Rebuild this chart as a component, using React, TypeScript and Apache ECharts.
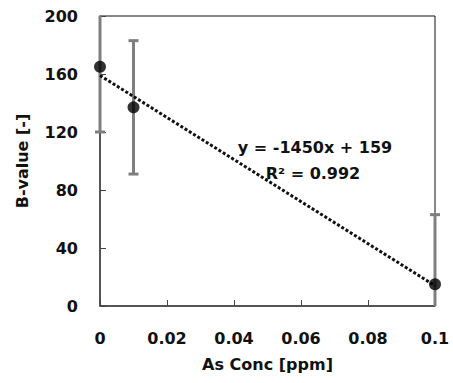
import React, { useEffect, useRef } from "react";
import * as echarts from "echarts";

const concentrations = [0, 0.01, 0.1];
const bValues = [165, 137, 15];
const errors = [45, 46, 48];
const trendX = [0, 0.1];
const trendY = [159, 14];
const yTicks = [0, 40, 80, 120, 160, 200];
const xTicks = [0, 0.02, 0.04, 0.06, 0.08, 0.1];
const equationText = "y = -1450x + 159";
const r2Text = "R\u00b2 = 0.992";

const FONT = "'DejaVu Sans', 'Open Sans', sans-serif";
const W = "bold";
const FS = 16;

export default function App() {
  const ref = useRef<HTMLDivElement>(null);
  useEffect(() => {
    if (!ref.current) return;
    const chart = echarts.init(ref.current, undefined, { renderer: "svg" });
    const yMin = yTicks[0];
    const yMax = yTicks[yTicks.length - 1];
    const errData = concentrations.map((c, i) => [c, bValues[i] - errors[i], bValues[i] + errors[i]]);
    chart.setOption({
      animation: false,
      backgroundColor: "#ffffff",
      grid: { left: 100, right: 18, top: 16, bottom: 77, show: true, borderColor: "#111", borderWidth: 1 },
      xAxis: {
        type: "value",
        min: xTicks[0],
        max: xTicks[xTicks.length - 1],
        interval: 0.02,
        name: "As Conc [ppm]",
        nameLocation: "middle",
        nameGap: 50,
        nameTextStyle: { fontFamily: FONT, fontWeight: W, fontSize: FS, color: "#111" },
        axisLine: { show: true, lineStyle: { color: "#444", width: 1.5 } },
        axisTick: { show: true, inside: true, length: 6, lineStyle: { color: "#444" } },
        splitLine: { show: false },
        axisLabel: {
          margin: 24,
          fontFamily: FONT,
          fontWeight: W,
          fontSize: FS,
          color: "#111",
          formatter: (v: number) => (v === 0 ? "0" : String(parseFloat(v.toFixed(2)))),
        },
      },
      yAxis: {
        type: "value",
        min: yMin,
        max: yMax,
        interval: 40,
        name: "B-value [-]",
        nameLocation: "middle",
        nameGap: 70,
        nameTextStyle: { fontFamily: FONT, fontWeight: W, fontSize: FS, color: "#111" },
        axisLine: { show: true, lineStyle: { color: "#444", width: 1.5 } },
        axisTick: { show: true, inside: true, length: 6, lineStyle: { color: "#444" } },
        splitLine: { show: false },
        axisLabel: { margin: 22, fontFamily: FONT, fontWeight: W, fontSize: FS, color: "#111" },
      },
      series: [
        {
          type: "custom",
          clip: false,
          data: errData,
          z: 1,
          renderItem: (params: any, api: any) => {
            const x = api.value(0);
            const loV = api.value(1);
            const hiV = api.value(2);
            const lo = api.coord([x, Math.max(loV, yMin)]);
            const hi = api.coord([x, Math.min(hiV, yMax)]);
            const cap = 5;
            const style = { stroke: "#7f7f7f", lineWidth: 3 };
            const children: any[] = [
              { type: "line", shape: { x1: lo[0], y1: lo[1], x2: hi[0], y2: hi[1] }, style },
            ];
            if (loV >= yMin)
              children.push({ type: "line", shape: { x1: lo[0] - cap, y1: lo[1], x2: lo[0] + cap, y2: lo[1] }, style });
            if (hiV <= yMax)
              children.push({ type: "line", shape: { x1: hi[0] - cap, y1: hi[1], x2: hi[0] + cap, y2: hi[1] }, style });
            return { type: "group", children };
          },
        },
        {
          type: "line",
          data: trendX.map((x, i) => [x, trendY[i]]),
          symbol: "none",
          z: 2,
          lineStyle: { color: "#111", width: 3, type: [3, 2] },
        },
        {
          type: "scatter",
          data: concentrations.map((c, i) => [c, bValues[i]]),
          symbol: "circle",
          symbolSize: 12,
          z: 3,
          itemStyle: { color: "#000" },
        },
      ],
      graphic: [
        {
          type: "text",
          x: 315,
          y: 147,
          style: {
            text: equationText,
            fontFamily: FONT,
            fontWeight: W,
            fontSize: FS,
            fill: "#111",
            align: "center",
            verticalAlign: "middle",
          },
        },
        {
          type: "text",
          x: 313,
          y: 173,
          style: {
            text: r2Text,
            fontFamily: FONT,
            fontWeight: W,
            fontSize: FS,
            fill: "#111",
            align: "center",
            verticalAlign: "middle",
          },
        },
      ],
    });
    return () => chart.dispose();
  }, []);
  return <div ref={ref} style={{ width: 453, height: 383, position: "absolute", left: 0, top: 0 }} />;
}
